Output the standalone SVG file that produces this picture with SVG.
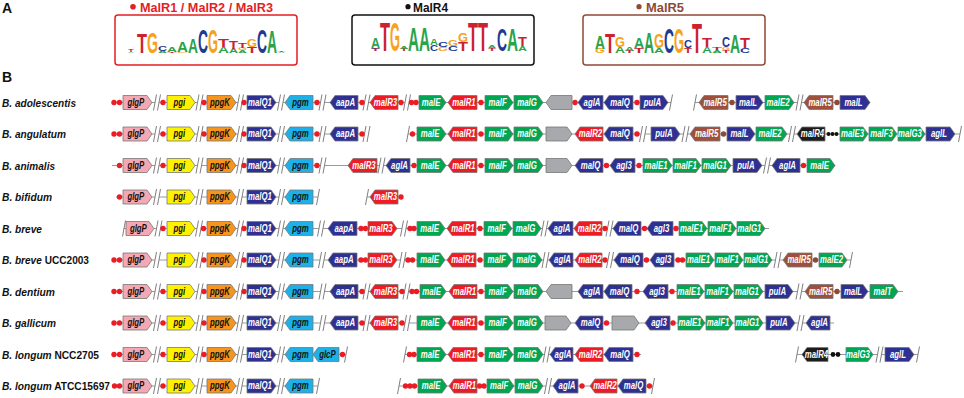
<svg xmlns="http://www.w3.org/2000/svg" width="964" height="398" viewBox="0 0 964 398">
<style>
text{font-family:"Liberation Sans",Arial,Helvetica,sans-serif}
.g{stroke:#777;stroke-width:0.8}
.pk{fill:#f5a8b2}.yl{fill:#fff200}.or{fill:#f7941d}.db{fill:#2e3192}.lb{fill:#1eb1e9}.gr{fill:#00a651}.rd{fill:#ed1c24}.gy{fill:#a7a9ac}.br{fill:#9e503c}.bk{fill:#1c1c1c}
.t{font-size:10px;font-weight:bold;font-style:italic;text-anchor:middle;transform:scaleX(0.78);transform-box:fill-box;transform-origin:center}
.w{fill:#fff}.k{fill:#111}
.d{fill:#ec1c24}.dbr{fill:#8e4a36}.dk{fill:#111}
.bb{stroke:#808080;stroke-width:0.8;fill:none}
.sl{stroke:#808080;stroke-width:1;fill:none}
.lab{font-size:11.5px;font-weight:bold;fill:#111}
.pl{font-size:14px;font-weight:bold;fill:#111}
.ttl{font-size:12.5px;font-weight:bold}
.lg{font-size:10px;font-weight:bold}
.lA{fill:#2aa34a}.lC{fill:#1f3a93}.lG{fill:#f6a31b}.lT{fill:#cc2131}
</style>
<defs>
<path id="b2" class="sl" d="M-3.5,8L-0.5,-8M0.5,8L3.5,-8"/>
<path id="b1" class="sl" d="M-1.5,8L1.5,-8"/>
</defs>

<text class="pl" x="2" y="13">A</text>
<text class="pl" x="2" y="82">B</text>

<g id="logo-malR123">
<circle cx="133" cy="6.7" r="2.8" fill="#e31e24"/>
<text class="ttl" x="140" y="11.8" fill="#e31e24" textLength="133" lengthAdjust="spacingAndGlyphs">MalR1 / MalR2 / MalR3</text>
<rect x="115" y="15" width="182" height="50" rx="3" fill="#fff" stroke="#e31e24" stroke-width="1.5"/>
<text class="lg lA" x="128" textLength="6" lengthAdjust="spacingAndGlyphs" transform="translate(0,53) scale(1,0.21)">A</text>
<text class="lg lT" x="128" textLength="6" lengthAdjust="spacingAndGlyphs" transform="translate(0,51.5) scale(1,0.28)">T</text>
<text class="lg lT" x="137" textLength="10" lengthAdjust="spacingAndGlyphs" transform="translate(0,53) scale(1,2.78)">T</text>
<text class="lg lG" x="147" textLength="11" lengthAdjust="spacingAndGlyphs" transform="translate(0,53) scale(1,2.92)">G</text>
<text class="lg lA" x="158" textLength="9" lengthAdjust="spacingAndGlyphs" transform="translate(0,53) scale(1,0.35)">A</text>
<text class="lg lC" x="158" textLength="9" lengthAdjust="spacingAndGlyphs" transform="translate(0,50.5) scale(1,0.63)">C</text>
<text class="lg lT" x="167" textLength="10" lengthAdjust="spacingAndGlyphs" transform="translate(0,53) scale(1,0.14)">T</text>
<text class="lg lA" x="167" textLength="10" lengthAdjust="spacingAndGlyphs" transform="translate(0,52) scale(1,0.63)">A</text>
<text class="lg lG" x="177" textLength="11" lengthAdjust="spacingAndGlyphs" transform="translate(0,53) scale(1,0.14)">G</text>
<text class="lg lA" x="177" textLength="11" lengthAdjust="spacingAndGlyphs" transform="translate(0,52) scale(1,1.53)">A</text>
<text class="lg lA" x="188" textLength="10" lengthAdjust="spacingAndGlyphs" transform="translate(0,53) scale(1,2.08)">A</text>
<text class="lg lC" x="198" textLength="10" lengthAdjust="spacingAndGlyphs" transform="translate(0,53) scale(1,3.33)">C</text>
<text class="lg lG" x="208" textLength="10" lengthAdjust="spacingAndGlyphs" transform="translate(0,53) scale(1,3.33)">G</text>
<text class="lg lA" x="218" textLength="11" lengthAdjust="spacingAndGlyphs" transform="translate(0,53) scale(1,0.83)">A</text>
<text class="lg lT" x="218" textLength="11" lengthAdjust="spacingAndGlyphs" transform="translate(0,47) scale(1,1.11)">T</text>
<text class="lg lA" x="229" textLength="9" lengthAdjust="spacingAndGlyphs" transform="translate(0,53) scale(1,0.63)">A</text>
<text class="lg lT" x="229" textLength="9" lengthAdjust="spacingAndGlyphs" transform="translate(0,48.5) scale(1,1.11)">T</text>
<text class="lg lA" x="238" textLength="9" lengthAdjust="spacingAndGlyphs" transform="translate(0,53) scale(1,0.42)">A</text>
<text class="lg lG" x="238" textLength="9" lengthAdjust="spacingAndGlyphs" transform="translate(0,50) scale(1,0.28)">G</text>
<text class="lg lT" x="238" textLength="9" lengthAdjust="spacingAndGlyphs" transform="translate(0,48) scale(1,0.69)">T</text>
<text class="lg lT" x="247" textLength="10" lengthAdjust="spacingAndGlyphs" transform="translate(0,53) scale(1,0.83)">T</text>
<text class="lg lG" x="247" textLength="10" lengthAdjust="spacingAndGlyphs" transform="translate(0,47) scale(1,1.11)">G</text>
<text class="lg lC" x="257" textLength="10" lengthAdjust="spacingAndGlyphs" transform="translate(0,53) scale(1,3.33)">C</text>
<text class="lg lA" x="267" textLength="10" lengthAdjust="spacingAndGlyphs" transform="translate(0,53) scale(1,3.19)">A</text>
<text class="lg lA" x="278" textLength="7" lengthAdjust="spacingAndGlyphs" transform="translate(0,53) scale(1,0.21)">A</text>
<text class="lg lT" x="278" textLength="7" lengthAdjust="spacingAndGlyphs" transform="translate(0,51.5) scale(1,0.21)">T</text>
</g>

<g id="logo-malR4">
<circle cx="408" cy="6.7" r="2.6" fill="#111"/>
<text class="ttl" x="413" y="11.8" fill="#111" textLength="35" lengthAdjust="spacingAndGlyphs">MalR4</text>
<rect x="352" y="15" width="182" height="50" rx="3" fill="#fff" stroke="#111" stroke-width="1.5"/>
<text class="lg lT" x="371" textLength="9" lengthAdjust="spacingAndGlyphs" transform="translate(0,51) scale(1,0.28)">T</text>
<text class="lg lC" x="371" textLength="9" lengthAdjust="spacingAndGlyphs" transform="translate(0,49) scale(1,0.21)">C</text>
<text class="lg lA" x="371" textLength="9" lengthAdjust="spacingAndGlyphs" transform="translate(0,47.5) scale(1,1.39)">A</text>
<text class="lg lT" x="380" textLength="10" lengthAdjust="spacingAndGlyphs" transform="translate(0,51) scale(1,4.03)">T</text>
<text class="lg lG" x="390" textLength="10" lengthAdjust="spacingAndGlyphs" transform="translate(0,51) scale(1,4.03)">G</text>
<text class="lg lT" x="400" textLength="8" lengthAdjust="spacingAndGlyphs" transform="translate(0,51) scale(1,0.28)">T</text>
<text class="lg lA" x="400" textLength="8" lengthAdjust="spacingAndGlyphs" transform="translate(0,49) scale(1,0.42)">A</text>
<text class="lg lA" x="408" textLength="11" lengthAdjust="spacingAndGlyphs" transform="translate(0,51) scale(1,3.33)">A</text>
<text class="lg lA" x="419" textLength="11" lengthAdjust="spacingAndGlyphs" transform="translate(0,51) scale(1,3.33)">A</text>
<text class="lg lC" x="430" textLength="8" lengthAdjust="spacingAndGlyphs" transform="translate(0,51) scale(1,0.83)">C</text>
<text class="lg lA" x="430" textLength="8" lengthAdjust="spacingAndGlyphs" transform="translate(0,45) scale(1,0.83)">A</text>
<text class="lg lG" x="438" textLength="10" lengthAdjust="spacingAndGlyphs" transform="translate(0,51) scale(1,0.56)">G</text>
<text class="lg lC" x="438" textLength="10" lengthAdjust="spacingAndGlyphs" transform="translate(0,47) scale(1,0.69)">C</text>
<text class="lg lC" x="448" textLength="10" lengthAdjust="spacingAndGlyphs" transform="translate(0,51) scale(1,0.69)">C</text>
<text class="lg lG" x="448" textLength="10" lengthAdjust="spacingAndGlyphs" transform="translate(0,46) scale(1,0.83)">G</text>
<text class="lg lT" x="458" textLength="10" lengthAdjust="spacingAndGlyphs" transform="translate(0,51) scale(1,1.25)">T</text>
<text class="lg lG" x="458" textLength="10" lengthAdjust="spacingAndGlyphs" transform="translate(0,42) scale(1,1.25)">G</text>
<text class="lg lT" x="468" textLength="10" lengthAdjust="spacingAndGlyphs" transform="translate(0,51) scale(1,4.03)">T</text>
<text class="lg lT" x="478" textLength="10" lengthAdjust="spacingAndGlyphs" transform="translate(0,51) scale(1,4.03)">T</text>
<text class="lg lT" x="488" textLength="8" lengthAdjust="spacingAndGlyphs" transform="translate(0,51) scale(1,0.42)">T</text>
<text class="lg lA" x="488" textLength="8" lengthAdjust="spacingAndGlyphs" transform="translate(0,48) scale(1,0.42)">A</text>
<text class="lg lC" x="497" textLength="10" lengthAdjust="spacingAndGlyphs" transform="translate(0,51) scale(1,3.19)">C</text>
<text class="lg lA" x="507" textLength="11" lengthAdjust="spacingAndGlyphs" transform="translate(0,51) scale(1,3.19)">A</text>
<text class="lg lA" x="518" textLength="9" lengthAdjust="spacingAndGlyphs" transform="translate(0,51) scale(1,0.69)">A</text>
<text class="lg lT" x="518" textLength="9" lengthAdjust="spacingAndGlyphs" transform="translate(0,46) scale(1,1.25)">T</text>
</g>

<g id="logo-malR5">
<circle cx="639" cy="6.7" r="2.6" fill="#8e4a36"/>
<text class="ttl" x="646" y="11.8" fill="#8e4a36" textLength="38" lengthAdjust="spacingAndGlyphs">MalR5</text>
<rect x="583" y="15" width="182" height="50" rx="3" fill="#fff" stroke="#8e4a36" stroke-width="1.5"/>
<text class="lg lG" x="595" textLength="10" lengthAdjust="spacingAndGlyphs" transform="translate(0,53) scale(1,0.63)">G</text>
<text class="lg lA" x="595" textLength="10" lengthAdjust="spacingAndGlyphs" transform="translate(0,48.5) scale(1,1.88)">A</text>
<text class="lg lT" x="605" textLength="10" lengthAdjust="spacingAndGlyphs" transform="translate(0,53) scale(1,2.78)">T</text>
<text class="lg lA" x="615" textLength="10" lengthAdjust="spacingAndGlyphs" transform="translate(0,53) scale(1,0.83)">A</text>
<text class="lg lG" x="615" textLength="10" lengthAdjust="spacingAndGlyphs" transform="translate(0,47) scale(1,1.39)">G</text>
<text class="lg lT" x="625" textLength="9" lengthAdjust="spacingAndGlyphs" transform="translate(0,53) scale(1,0.28)">T</text>
<text class="lg lA" x="625" textLength="9" lengthAdjust="spacingAndGlyphs" transform="translate(0,51) scale(1,0.49)">A</text>
<text class="lg lT" x="634" textLength="10" lengthAdjust="spacingAndGlyphs" transform="translate(0,53) scale(1,0.69)">T</text>
<text class="lg lA" x="634" textLength="10" lengthAdjust="spacingAndGlyphs" transform="translate(0,48) scale(1,1.53)">A</text>
<text class="lg lA" x="644" textLength="10" lengthAdjust="spacingAndGlyphs" transform="translate(0,53) scale(1,2.92)">A</text>
<text class="lg lA" x="654" textLength="10" lengthAdjust="spacingAndGlyphs" transform="translate(0,53) scale(1,0.69)">A</text>
<text class="lg lG" x="654" textLength="10" lengthAdjust="spacingAndGlyphs" transform="translate(0,48) scale(1,1.94)">G</text>
<text class="lg lC" x="664" textLength="10" lengthAdjust="spacingAndGlyphs" transform="translate(0,53) scale(1,3.47)">C</text>
<text class="lg lG" x="674" textLength="10" lengthAdjust="spacingAndGlyphs" transform="translate(0,53) scale(1,3.47)">G</text>
<text class="lg lT" x="684" textLength="8" lengthAdjust="spacingAndGlyphs" transform="translate(0,53) scale(1,0.69)">T</text>
<text class="lg lC" x="684" textLength="8" lengthAdjust="spacingAndGlyphs" transform="translate(0,48) scale(1,1.11)">C</text>
<text class="lg lT" x="692" textLength="10" lengthAdjust="spacingAndGlyphs" transform="translate(0,53) scale(1,4.31)">T</text>
<text class="lg lA" x="702" textLength="10" lengthAdjust="spacingAndGlyphs" transform="translate(0,53) scale(1,0.83)">A</text>
<text class="lg lT" x="702" textLength="10" lengthAdjust="spacingAndGlyphs" transform="translate(0,47) scale(1,1.25)">T</text>
<text class="lg lA" x="712" textLength="10" lengthAdjust="spacingAndGlyphs" transform="translate(0,53) scale(1,0.42)">A</text>
<text class="lg lT" x="712" textLength="10" lengthAdjust="spacingAndGlyphs" transform="translate(0,50) scale(1,0.42)">T</text>
<text class="lg lT" x="722" textLength="8" lengthAdjust="spacingAndGlyphs" transform="translate(0,53) scale(1,0.42)">T</text>
<text class="lg lG" x="722" textLength="8" lengthAdjust="spacingAndGlyphs" transform="translate(0,50) scale(1,0.42)">G</text>
<text class="lg lC" x="722" textLength="8" lengthAdjust="spacingAndGlyphs" transform="translate(0,47) scale(1,1.39)">C</text>
<text class="lg lA" x="730" textLength="10" lengthAdjust="spacingAndGlyphs" transform="translate(0,53) scale(1,2.5)">A</text>
<text class="lg lC" x="740" textLength="10" lengthAdjust="spacingAndGlyphs" transform="translate(0,53) scale(1,0.69)">C</text>
<text class="lg lT" x="740" textLength="10" lengthAdjust="spacingAndGlyphs" transform="translate(0,48) scale(1,1.53)">T</text>
</g>

<g id="row-labels">
<text class="lab" x="2" y="106.5" textLength="74" lengthAdjust="spacingAndGlyphs" font-style="italic">B. adolescentis</text>
<text class="lab" x="2" y="138" textLength="64" lengthAdjust="spacingAndGlyphs" font-style="italic">B. angulatum</text>
<text class="lab" x="2" y="169.5" textLength="53" lengthAdjust="spacingAndGlyphs" font-style="italic">B. animalis</text>
<text class="lab" x="2" y="201" textLength="50" lengthAdjust="spacingAndGlyphs" font-style="italic">B. bifidum</text>
<text class="lab" x="2" y="232.5" textLength="40" lengthAdjust="spacingAndGlyphs" font-style="italic">B. breve</text>
<text class="lab" x="2" y="264" textLength="87" lengthAdjust="spacingAndGlyphs"><tspan font-style="italic">B. breve</tspan> UCC2003</text>
<text class="lab" x="2" y="295.5" textLength="53" lengthAdjust="spacingAndGlyphs" font-style="italic">B. dentium</text>
<text class="lab" x="2" y="327" textLength="54" lengthAdjust="spacingAndGlyphs" font-style="italic">B. gallicum</text>
<text class="lab" x="2" y="358.5" textLength="97" lengthAdjust="spacingAndGlyphs"><tspan font-style="italic">B. longum</tspan> NCC2705</text>
<text class="lab" x="2" y="390" textLength="108" lengthAdjust="spacingAndGlyphs"><tspan font-style="italic">B. longum</tspan> ATCC15697</text>
</g>

<g id="connectors">
<path class="bb" d="M114,102.5H155M159,102.5H197.5M201.5,102.5H238M242,102.5H279M283,102.5H320.5M324.5,102.5H364.5M368.5,102.5H405M409,102.5H671M695,102.5H797.5M801.5,102.5H870"/>
<path class="bb" d="M114,134H155M159,134H197.5M201.5,134H238M242,134H279M283,134H320.5M324.5,134H364.5M408,134H641M645,134H683.5M687.5,134H790M794,134H960"/>
<path class="bb" d="M112,165.5H155M159,165.5H197.5M201.5,165.5H238M242,165.5H279M283,165.5H320.5M324.5,165.5H379.5M383.5,165.5H765M769,165.5H835"/>
<path class="bb" d="M116,197H155M159,197H197.5M201.5,197H238M242,197H279M283,197H318M367,197H401"/>
<path class="bb" d="M124,228.5H156.5M160.5,228.5H197M201,228.5H238M242,228.5H279M283,228.5H319M323,228.5H402M406,228.5H542.5M546.5,228.5H607.5M611.5,228.5H769"/>
<path class="bb" d="M114,260H155M159,260H197.5M201.5,260H238M242,260H279M283,260H320M324,260H400.5M404.5,260H543.5M547.5,260H608M612,260H775.5M779.5,260H851"/>
<path class="bb" d="M114,291.5H155M159,291.5H197.5M201.5,291.5H238M242,291.5H279M283,291.5H320.5M324.5,291.5H364.5M368.5,291.5H404.5M408.5,291.5H797.5M801.5,291.5H903"/>
<path class="bb" d="M114,323H155M159,323H197.5M201.5,323H238M242,323H279M283,323H320.5M324.5,323H364.5M368.5,323H405M409,323H798.5M802.5,323H834"/>
<path class="bb" d="M114,354.5H155M159,354.5H197.5M201.5,354.5H238M242,354.5H279M283,354.5H346M405,354.5H544.5M548.5,354.5H641M797,354.5H877.5M881.5,354.5H918"/>
<path class="bb" d="M114,386H155M159,386H197.5M201.5,386H238M242,386H279M283,386H318M399,386H546M550,386H653"/>
<use href="#b2" x="157" y="102.5"/><use href="#b2" x="199.5" y="102.5"/><use href="#b2" x="240" y="102.5"/><use href="#b2" x="281" y="102.5"/><use href="#b2" x="322.5" y="102.5"/><use href="#b2" x="366.5" y="102.5"/><use href="#b2" x="407" y="102.5"/><use href="#b2" x="799.5" y="102.5"/><use href="#b1" x="671" y="102.5"/><use href="#b1" x="695" y="102.5"/>
<use href="#b2" x="157" y="134"/><use href="#b2" x="199.5" y="134"/><use href="#b2" x="240" y="134"/><use href="#b2" x="281" y="134"/><use href="#b2" x="322.5" y="134"/><use href="#b2" x="366.5" y="134"/><use href="#b2" x="643" y="134"/><use href="#b2" x="685.5" y="134"/><use href="#b2" x="792" y="134"/><use href="#b1" x="408" y="134"/><use href="#b1" x="960" y="134"/>
<use href="#b2" x="157" y="165.5"/><use href="#b2" x="199.5" y="165.5"/><use href="#b2" x="240" y="165.5"/><use href="#b2" x="281" y="165.5"/><use href="#b2" x="322.5" y="165.5"/><use href="#b2" x="381.5" y="165.5"/><use href="#b2" x="767" y="165.5"/>
<use href="#b2" x="157" y="197"/><use href="#b2" x="199.5" y="197"/><use href="#b2" x="240" y="197"/><use href="#b2" x="281" y="197"/><use href="#b1" x="318" y="197"/><use href="#b1" x="367" y="197"/>
<use href="#b1" x="124" y="228.5"/><use href="#b2" x="158.5" y="228.5"/><use href="#b2" x="199" y="228.5"/><use href="#b2" x="240" y="228.5"/><use href="#b2" x="281" y="228.5"/><use href="#b2" x="321" y="228.5"/><use href="#b2" x="404" y="228.5"/><use href="#b2" x="544.5" y="228.5"/><use href="#b2" x="609.5" y="228.5"/>
<use href="#b2" x="157" y="260"/><use href="#b2" x="199.5" y="260"/><use href="#b2" x="240" y="260"/><use href="#b2" x="281" y="260"/><use href="#b2" x="322" y="260"/><use href="#b2" x="402.5" y="260"/><use href="#b2" x="545.5" y="260"/><use href="#b2" x="610" y="260"/><use href="#b2" x="777.5" y="260"/><use href="#b1" x="851" y="260"/>
<use href="#b2" x="157" y="291.5"/><use href="#b2" x="199.5" y="291.5"/><use href="#b2" x="240" y="291.5"/><use href="#b2" x="281" y="291.5"/><use href="#b2" x="322.5" y="291.5"/><use href="#b2" x="366.5" y="291.5"/><use href="#b2" x="406.5" y="291.5"/><use href="#b2" x="799.5" y="291.5"/>
<use href="#b2" x="157" y="323"/><use href="#b2" x="199.5" y="323"/><use href="#b2" x="240" y="323"/><use href="#b2" x="281" y="323"/><use href="#b2" x="322.5" y="323"/><use href="#b2" x="366.5" y="323"/><use href="#b2" x="407" y="323"/><use href="#b2" x="800.5" y="323"/>
<use href="#b2" x="157" y="354.5"/><use href="#b2" x="199.5" y="354.5"/><use href="#b2" x="240" y="354.5"/><use href="#b2" x="281" y="354.5"/><use href="#b2" x="546.5" y="354.5"/><use href="#b2" x="879.5" y="354.5"/><use href="#b1" x="346" y="354.5"/><use href="#b1" x="405" y="354.5"/><use href="#b1" x="797" y="354.5"/><use href="#b1" x="918" y="354.5"/>
<use href="#b2" x="157" y="386"/><use href="#b2" x="199.5" y="386"/><use href="#b2" x="240" y="386"/><use href="#b2" x="281" y="386"/><use href="#b2" x="548" y="386"/><use href="#b1" x="318" y="386"/><use href="#b1" x="399" y="386"/><use href="#b1" x="653" y="386"/>
</g>

<g id="sites">
<g class="d">
<circle cx="114" cy="102.5" r="2.7"/><circle cx="119.5" cy="102.5" r="2.7"/><circle cx="163" cy="102.5" r="2.7"/><circle cx="204" cy="102.5" r="2.7"/><circle cx="244" cy="102.5" r="2.7"/><circle cx="317" cy="102.5" r="2.7"/><circle cx="362" cy="102.5" r="2.7"/><circle cx="401" cy="102.5" r="2.7"/><circle cx="411.5" cy="102.5" r="2.7"/><circle cx="416" cy="102.5" r="2.7"/><circle cx="481" cy="102.5" r="2.7"/><circle cx="575" cy="102.5" r="2.7"/><circle cx="637" cy="102.5" r="2.7"/>
<circle cx="114" cy="134" r="2.7"/><circle cx="119.5" cy="134" r="2.7"/><circle cx="163" cy="134" r="2.7"/><circle cx="204" cy="134" r="2.7"/><circle cx="244" cy="134" r="2.7"/><circle cx="317" cy="134" r="2.7"/><circle cx="362" cy="134" r="2.7"/><circle cx="412.5" cy="134" r="2.7"/><circle cx="481" cy="134" r="2.7"/><circle cx="637" cy="134" r="2.7"/>
<circle cx="119.5" cy="165.5" r="2.7"/><circle cx="163" cy="165.5" r="2.7"/><circle cx="244" cy="165.5" r="2.7"/><circle cx="317" cy="165.5" r="2.7"/><circle cx="414" cy="165.5" r="2.7"/><circle cx="481" cy="165.5" r="2.7"/><circle cx="606.5" cy="165.5" r="2.7"/><circle cx="639" cy="165.5" r="2.7"/><circle cx="803.5" cy="165.5" r="2.7"/>
<circle cx="119.5" cy="197" r="2.7"/><circle cx="401" cy="197" r="2.7"/>
<circle cx="163" cy="228.5" r="2.7"/><circle cx="203.5" cy="228.5" r="2.7"/><circle cx="244" cy="228.5" r="2.7"/><circle cx="361" cy="228.5" r="2.7"/><circle cx="365.5" cy="228.5" r="2.7"/><circle cx="410" cy="228.5" r="2.7"/><circle cx="414" cy="228.5" r="2.7"/><circle cx="480" cy="228.5" r="2.7"/><circle cx="605" cy="228.5" r="2.7"/><circle cx="644.5" cy="228.5" r="2.7"/><circle cx="676" cy="228.5" r="2.7"/>
<circle cx="114" cy="260" r="2.7"/><circle cx="119.5" cy="260" r="2.7"/><circle cx="204" cy="260" r="2.7"/><circle cx="244" cy="260" r="2.7"/><circle cx="361" cy="260" r="2.7"/><circle cx="365.5" cy="260" r="2.7"/><circle cx="408" cy="260" r="2.7"/><circle cx="412.5" cy="260" r="2.7"/><circle cx="480" cy="260" r="2.7"/><circle cx="605" cy="260" r="2.7"/><circle cx="646.5" cy="260" r="2.7"/><circle cx="678" cy="260" r="2.7"/><circle cx="682.5" cy="260" r="2.7"/>
<circle cx="114" cy="291.5" r="2.7"/><circle cx="119.5" cy="291.5" r="2.7"/><circle cx="163" cy="291.5" r="2.7"/><circle cx="204" cy="291.5" r="2.7"/><circle cx="244" cy="291.5" r="2.7"/><circle cx="362" cy="291.5" r="2.7"/><circle cx="402" cy="291.5" r="2.7"/><circle cx="412" cy="291.5" r="2.7"/><circle cx="416.5" cy="291.5" r="2.7"/><circle cx="481" cy="291.5" r="2.7"/><circle cx="637" cy="291.5" r="2.7"/><circle cx="672" cy="291.5" r="2.7"/>
<circle cx="114" cy="323" r="2.7"/><circle cx="119.5" cy="323" r="2.7"/><circle cx="163" cy="323" r="2.7"/><circle cx="204" cy="323" r="2.7"/><circle cx="362" cy="323" r="2.7"/><circle cx="402" cy="323" r="2.7"/><circle cx="481" cy="323" r="2.7"/><circle cx="606.5" cy="323" r="2.7"/><circle cx="673" cy="323" r="2.7"/>
<circle cx="114" cy="354.5" r="2.7"/><circle cx="119.5" cy="354.5" r="2.7"/><circle cx="163" cy="354.5" r="2.7"/><circle cx="204" cy="354.5" r="2.7"/><circle cx="342.5" cy="354.5" r="2.7"/><circle cx="409.5" cy="354.5" r="2.7"/><circle cx="414" cy="354.5" r="2.7"/><circle cx="481" cy="354.5" r="2.7"/><circle cx="637" cy="354.5" r="2.7"/>
<circle cx="114.5" cy="386" r="2.7"/><circle cx="119.5" cy="386" r="2.7"/><circle cx="163" cy="386" r="2.7"/><circle cx="405.5" cy="386" r="2.7"/><circle cx="410" cy="386" r="2.7"/><circle cx="414.5" cy="386" r="2.7"/><circle cx="479.5" cy="386" r="2.7"/><circle cx="484" cy="386" r="2.7"/><circle cx="582" cy="386" r="2.7"/><circle cx="649.5" cy="386" r="2.7"/>
</g>
<g class="dbr">
<circle cx="732" cy="102.5" r="2.7"/><circle cx="837" cy="102.5" r="2.7"/><circle cx="723.5" cy="134" r="2.7"/><circle cx="815.5" cy="260" r="2.7"/><circle cx="837" cy="291.5" r="2.7"/>
</g>
<g class="dk">
<circle cx="828.5" cy="134" r="2"/><circle cx="832.5" cy="134" r="2"/><circle cx="836.5" cy="134" r="2"/>
<circle cx="833" cy="354.5" r="2.4"/><circle cx="838" cy="354.5" r="2.4"/>
</g>
</g>

<g id="row1-adolescentis">
<g id="r1-01-glgP"><path class="g pk" d="M123,95.5h24l5,7-5,7h-24z"/><text class="t k" x="136" y="106">glgP</text></g>
<g id="r1-02-pgi"><path class="g yl" d="M167,95.5h23l5,7-5,7h-23z"/><text class="t k" x="179.5" y="106">pgi</text></g>
<g id="r1-03-ppgK"><path class="g or" d="M207,95.5h24l5,7-5,7h-24z"/><text class="t k" x="220" y="106">ppgK</text></g>
<g id="r1-04-malQ1"><path class="g db" d="M247,95.5h24l5,7-5,7h-24z"/><text class="t w" x="260" y="106">malQ1</text></g>
<g id="r1-05-pgm"><path class="g lb" d="M285,102.5l5,-7h23v14h-23z"/><text class="t k" x="300.5" y="106">pgm</text></g>
<g id="r1-06-aapA"><path class="g db" d="M330,102.5l5,-7h23v14h-23z"/><text class="t w" x="345.5" y="106">aapA</text></g>
<g id="r1-07-malR3"><path class="g rd" d="M370,102.5l5,-7h23v14h-23z"/><text class="t w" x="385.5" y="106">malR3</text></g>
<g id="r1-08-malE"><path class="g gr" d="M419,95.5h22l5,7-5,7h-22z"/><text class="t w" x="431" y="106">malE</text></g>
<g id="r1-09-malR1"><path class="g rd" d="M448,102.5l5,-7h24v14h-24z"/><text class="t w" x="464" y="106">malR1</text></g>
<g id="r1-10-malF"><path class="g gr" d="M485,95.5h23l5,7-5,7h-23z"/><text class="t w" x="497.5" y="106">malF</text></g>
<g id="r1-11-malG"><path class="g gr" d="M514,95.5h24l5,7-5,7h-24z"/><text class="t w" x="527" y="106">malG</text></g>
<g id="r1-12-grey"><path class="g gy" d="M546,102.5l5,-7h21v14h-21z"/></g>
<g id="r1-13-aglA"><path class="g db" d="M578,102.5l5,-7h20v14h-20z"/><text class="t w" x="592" y="106">aglA</text></g>
<g id="r1-14-malQ"><path class="g db" d="M604,102.5l5,-7h24v14h-24z"/><text class="t w" x="620" y="106">malQ</text></g>
<g id="r1-15-pulA"><path class="g db" d="M640,95.5h23l5,7-5,7h-23z"/><text class="t w" x="652.5" y="106">pulA</text></g>
<g id="r1-16-malR5"><path class="g br" d="M699,102.5l5,-7h24v14h-24z"/><text class="t w" x="715" y="106">malR5</text></g>
<g id="r1-17-malL"><path class="g db" d="M736,95.5h22l5,7-5,7h-22z"/><text class="t w" x="748" y="106">malL</text></g>
<g id="r1-18-malE2"><path class="g gr" d="M765,95.5h24l5,7-5,7h-24z"/><text class="t w" x="778" y="106">malE2</text></g>
<g id="r1-19-malR5"><path class="g br" d="M804,102.5l5,-7h24v14h-24z"/><text class="t w" x="820" y="106">malR5</text></g>
<g id="r1-20-malL"><path class="g db" d="M840,95.5h25l5,7-5,7h-25z"/><text class="t w" x="853.5" y="106">malL</text></g>
</g>

<g id="row2-angulatum">
<g id="r2-01-glgP"><path class="g pk" d="M123,127h24l5,7-5,7h-24z"/><text class="t k" x="136" y="137.5">glgP</text></g>
<g id="r2-02-pgi"><path class="g yl" d="M167,127h23l5,7-5,7h-23z"/><text class="t k" x="179.5" y="137.5">pgi</text></g>
<g id="r2-03-ppgK"><path class="g or" d="M207,127h24l5,7-5,7h-24z"/><text class="t k" x="220" y="137.5">ppgK</text></g>
<g id="r2-04-malQ1"><path class="g db" d="M247,127h24l5,7-5,7h-24z"/><text class="t w" x="260" y="137.5">malQ1</text></g>
<g id="r2-05-pgm"><path class="g lb" d="M285,134l5,-7h23v14h-23z"/><text class="t k" x="300.5" y="137.5">pgm</text></g>
<g id="r2-06-aapA"><path class="g db" d="M330,134l5,-7h23v14h-23z"/><text class="t w" x="345.5" y="137.5">aapA</text></g>
<g id="r2-07-malE"><path class="g gr" d="M417,127h24l5,7-5,7h-24z"/><text class="t w" x="430" y="137.5">malE</text></g>
<g id="r2-08-malR1"><path class="g rd" d="M448,134l5,-7h24v14h-24z"/><text class="t w" x="464" y="137.5">malR1</text></g>
<g id="r2-09-malF"><path class="g gr" d="M485,127h23l5,7-5,7h-23z"/><text class="t w" x="497.5" y="137.5">malF</text></g>
<g id="r2-10-malG"><path class="g gr" d="M514,127h24l5,7-5,7h-24z"/><text class="t w" x="527" y="137.5">malG</text></g>
<g id="r2-11-grey"><path class="g gy" d="M546,127h21l5,7-5,7h-21z"/></g>
<g id="r2-12-malR2"><path class="g rd" d="M575,134l5,-7h23v14h-23z"/><text class="t w" x="590.5" y="137.5">malR2</text></g>
<g id="r2-13-malQ"><path class="g db" d="M604,134l5,-7h24v14h-24z"/><text class="t w" x="620" y="137.5">malQ</text></g>
<g id="r2-14-pulA"><path class="g db" d="M651,127h24l5,7-5,7h-24z"/><text class="t w" x="664" y="137.5">pulA</text></g>
<g id="r2-15-malR5"><path class="g br" d="M690,134l5,-7h25v14h-25z"/><text class="t w" x="706.5" y="137.5">malR5</text></g>
<g id="r2-16-malL"><path class="g db" d="M727,127h23l5,7-5,7h-23z"/><text class="t w" x="739.5" y="137.5">malL</text></g>
<g id="r2-17-malE2"><path class="g gr" d="M756,127h26l5,7-5,7h-26z"/><text class="t w" x="770" y="137.5">malE2</text></g>
<g id="r2-18-malR4"><path class="g bk" d="M797,134l5,-7h23v14h-23z"/><text class="t w" x="812.5" y="137.5">malR4</text></g>
<g id="r2-19-malE3"><path class="g gr" d="M840,127h23l5,7-5,7h-23z"/><text class="t w" x="852.5" y="137.5">malE3</text></g>
<g id="r2-20-malF3"><path class="g gr" d="M869,127h23l5,7-5,7h-23z"/><text class="t w" x="881.5" y="137.5">malF3</text></g>
<g id="r2-21-malG3"><path class="g gr" d="M898,127h22l5,7-5,7h-22z"/><text class="t w" x="910" y="137.5">malG3</text></g>
<g id="r2-22-aglL"><path class="g db" d="M926,127h24l5,7-5,7h-24z"/><text class="t w" x="939" y="137.5">aglL</text></g>
</g>

<g id="row3-animalis">
<g id="r3-01-glgP"><path class="g pk" d="M123,158.5h24l5,7-5,7h-24z"/><text class="t k" x="136" y="169">glgP</text></g>
<g id="r3-02-pgi"><path class="g yl" d="M167,158.5h23l5,7-5,7h-23z"/><text class="t k" x="179.5" y="169">pgi</text></g>
<g id="r3-03-ppgK"><path class="g or" d="M207,158.5h24l5,7-5,7h-24z"/><text class="t k" x="220" y="169">ppgK</text></g>
<g id="r3-04-malQ1"><path class="g db" d="M247,158.5h24l5,7-5,7h-24z"/><text class="t w" x="260" y="169">malQ1</text></g>
<g id="r3-05-pgm"><path class="g lb" d="M285,165.5l5,-7h23v14h-23z"/><text class="t k" x="300.5" y="169">pgm</text></g>
<g id="r3-06-malR3"><path class="g rd" d="M348,165.5l5,-7h24v14h-24z"/><text class="t w" x="364" y="169">malR3</text></g>
<g id="r3-07-aglA"><path class="g db" d="M386,165.5l5,-7h19v14h-19z"/><text class="t w" x="399.5" y="169">aglA</text></g>
<g id="r3-08-malE"><path class="g gr" d="M417,158.5h24l5,7-5,7h-24z"/><text class="t w" x="430" y="169">malE</text></g>
<g id="r3-09-malR1"><path class="g rd" d="M448,165.5l5,-7h24v14h-24z"/><text class="t w" x="464" y="169">malR1</text></g>
<g id="r3-10-malF"><path class="g gr" d="M485,158.5h23l5,7-5,7h-23z"/><text class="t w" x="497.5" y="169">malF</text></g>
<g id="r3-11-malG"><path class="g gr" d="M514,158.5h24l5,7-5,7h-24z"/><text class="t w" x="527" y="169">malG</text></g>
<g id="r3-12-grey"><path class="g gy" d="M546,158.5h21l5,7-5,7h-21z"/></g>
<g id="r3-13-malQ"><path class="g db" d="M575,165.5l5,-7h23v14h-23z"/><text class="t w" x="590.5" y="169">malQ</text></g>
<g id="r3-14-agl3"><path class="g db" d="M610,165.5l5,-7h20v14h-20z"/><text class="t w" x="624" y="169">agl3</text></g>
<g id="r3-15-malE1"><path class="g gr" d="M643,158.5h24l5,7-5,7h-24z"/><text class="t w" x="656" y="169">malE1</text></g>
<g id="r3-16-malF1"><path class="g gr" d="M673,158.5h23l5,7-5,7h-23z"/><text class="t w" x="685.5" y="169">malF1</text></g>
<g id="r3-17-malG1"><path class="g gr" d="M702,158.5h24l5,7-5,7h-24z"/><text class="t w" x="715" y="169">malG1</text></g>
<g id="r3-18-pulA"><path class="g db" d="M733,158.5h24l5,7-5,7h-24z"/><text class="t w" x="746" y="169">pulA</text></g>
<g id="r3-19-aglA"><path class="g db" d="M772,165.5l5,-7h23v14h-23z"/><text class="t w" x="787.5" y="169">aglA</text></g>
<g id="r3-20-malE"><path class="g gr" d="M807,158.5h23l5,7-5,7h-23z"/><text class="t w" x="819.5" y="169">malE</text></g>
</g>

<g id="row4-bifidum">
<g id="r4-01-glgP"><path class="g pk" d="M123,190h24l5,7-5,7h-24z"/><text class="t k" x="136" y="200.5">glgP</text></g>
<g id="r4-02-pgi"><path class="g yl" d="M167,190h23l5,7-5,7h-23z"/><text class="t k" x="179.5" y="200.5">pgi</text></g>
<g id="r4-03-ppgK"><path class="g or" d="M207,190h24l5,7-5,7h-24z"/><text class="t k" x="220" y="200.5">ppgK</text></g>
<g id="r4-04-malQ1"><path class="g db" d="M247,190h24l5,7-5,7h-24z"/><text class="t w" x="260" y="200.5">malQ1</text></g>
<g id="r4-05-pgm"><path class="g lb" d="M285,197l5,-7h23v14h-23z"/><text class="t k" x="300.5" y="200.5">pgm</text></g>
<g id="r4-06-malR3"><path class="g rd" d="M370,197l5,-7h23v14h-23z"/><text class="t w" x="385.5" y="200.5">malR3</text></g>
</g>

<g id="row5-breve">
<g id="r5-01-glgP"><path class="g pk" d="M126,221.5h23l5,7-5,7h-23z"/><text class="t k" x="138.5" y="232">glgP</text></g>
<g id="r5-02-pgi"><path class="g yl" d="M167,221.5h23l5,7-5,7h-23z"/><text class="t k" x="179.5" y="232">pgi</text></g>
<g id="r5-03-ppgK"><path class="g or" d="M207,221.5h24l5,7-5,7h-24z"/><text class="t k" x="220" y="232">ppgK</text></g>
<g id="r5-04-malQ1"><path class="g db" d="M247,221.5h24l5,7-5,7h-24z"/><text class="t w" x="260" y="232">malQ1</text></g>
<g id="r5-05-pgm"><path class="g lb" d="M285,228.5l5,-7h23v14h-23z"/><text class="t k" x="300.5" y="232">pgm</text></g>
<g id="r5-06-aapA"><path class="g db" d="M328,228.5l5,-7h24v14h-24z"/><text class="t w" x="344" y="232">aapA</text></g>
<g id="r5-07-malR3"><path class="g rd" d="M368,221.5h24l5,7-5,7h-24z"/><text class="t w" x="381" y="232">malR3</text></g>
<g id="r5-08-malE"><path class="g gr" d="M417,221.5h23l5,7-5,7h-23z"/><text class="t w" x="429.5" y="232">malE</text></g>
<g id="r5-09-malR1"><path class="g rd" d="M447,228.5l5,-7h24v14h-24z"/><text class="t w" x="463" y="232">malR1</text></g>
<g id="r5-10-malF"><path class="g gr" d="M484,221.5h23l5,7-5,7h-23z"/><text class="t w" x="496.5" y="232">malF</text></g>
<g id="r5-11-malG"><path class="g gr" d="M513,221.5h23l5,7-5,7h-23z"/><text class="t w" x="525.5" y="232">malG</text></g>
<g id="r5-12-aglA"><path class="g db" d="M548,228.5l5,-7h20v14h-20z"/><text class="t w" x="562" y="232">aglA</text></g>
<g id="r5-13-malR2"><path class="g rd" d="M574,228.5l5,-7h23v14h-23z"/><text class="t w" x="589.5" y="232">malR2</text></g>
<g id="r5-14-malQ"><path class="g db" d="M613,228.5l5,-7h23v14h-23z"/><text class="t w" x="628.5" y="232">malQ</text></g>
<g id="r5-15-agl3"><path class="g db" d="M647,228.5l5,-7h21v14h-21z"/><text class="t w" x="661.5" y="232">agl3</text></g>
<g id="r5-16-malE1"><path class="g gr" d="M679,221.5h23l5,7-5,7h-23z"/><text class="t w" x="691.5" y="232">malE1</text></g>
<g id="r5-17-malF1"><path class="g gr" d="M708,221.5h23l5,7-5,7h-23z"/><text class="t w" x="720.5" y="232">malF1</text></g>
<g id="r5-18-malG1"><path class="g gr" d="M737,221.5h23l5,7-5,7h-23z"/><text class="t w" x="749.5" y="232">malG1</text></g>
</g>

<g id="row6-breve-UCC2003">
<g id="r6-01-glgP"><path class="g pk" d="M123,253h24l5,7-5,7h-24z"/><text class="t k" x="136" y="263.5">glgP</text></g>
<g id="r6-02-pgi"><path class="g yl" d="M167,253h23l5,7-5,7h-23z"/><text class="t k" x="179.5" y="263.5">pgi</text></g>
<g id="r6-03-ppgK"><path class="g or" d="M207,253h24l5,7-5,7h-24z"/><text class="t k" x="220" y="263.5">ppgK</text></g>
<g id="r6-04-malQ1"><path class="g db" d="M247,253h24l5,7-5,7h-24z"/><text class="t w" x="260" y="263.5">malQ1</text></g>
<g id="r6-05-pgm"><path class="g lb" d="M285,260l5,-7h23v14h-23z"/><text class="t k" x="300.5" y="263.5">pgm</text></g>
<g id="r6-06-aapA"><path class="g db" d="M328,260l5,-7h24v14h-24z"/><text class="t w" x="344" y="263.5">aapA</text></g>
<g id="r6-07-malR3"><path class="g rd" d="M368,253h24l5,7-5,7h-24z"/><text class="t w" x="381" y="263.5">malR3</text></g>
<g id="r6-08-malE"><path class="g gr" d="M417,253h23l5,7-5,7h-23z"/><text class="t w" x="429.5" y="263.5">malE</text></g>
<g id="r6-09-malR1"><path class="g rd" d="M447,260l5,-7h24v14h-24z"/><text class="t w" x="463" y="263.5">malR1</text></g>
<g id="r6-10-malF"><path class="g gr" d="M484,253h23l5,7-5,7h-23z"/><text class="t w" x="496.5" y="263.5">malF</text></g>
<g id="r6-11-malG"><path class="g gr" d="M513,253h24l5,7-5,7h-24z"/><text class="t w" x="526" y="263.5">malG</text></g>
<g id="r6-12-aglA"><path class="g db" d="M549,260l5,-7h19v14h-19z"/><text class="t w" x="562.5" y="263.5">aglA</text></g>
<g id="r6-13-malR2"><path class="g rd" d="M575,260l5,-7h22v14h-22z"/><text class="t w" x="590" y="263.5">malR2</text></g>
<g id="r6-14-malQ"><path class="g db" d="M614,260l5,-7h24v14h-24z"/><text class="t w" x="630" y="263.5">malQ</text></g>
<g id="r6-15-agl3"><path class="g db" d="M650,260l5,-7h19v14h-19z"/><text class="t w" x="663.5" y="263.5">agl3</text></g>
<g id="r6-16-malE1"><path class="g gr" d="M686,253h23l5,7-5,7h-23z"/><text class="t w" x="698.5" y="263.5">malE1</text></g>
<g id="r6-17-malF1"><path class="g gr" d="M715,253h23l5,7-5,7h-23z"/><text class="t w" x="727.5" y="263.5">malF1</text></g>
<g id="r6-18-malG1"><path class="g gr" d="M744,253h23l5,7-5,7h-23z"/><text class="t w" x="756.5" y="263.5">malG1</text></g>
<g id="r6-19-malR5"><path class="g br" d="M783,260l5,-7h24v14h-24z"/><text class="t w" x="799" y="263.5">malR5</text></g>
<g id="r6-20-malE2"><path class="g gr" d="M819,253h23l5,7-5,7h-23z"/><text class="t w" x="831.5" y="263.5">malE2</text></g>
</g>

<g id="row7-dentium">
<g id="r7-01-glgP"><path class="g pk" d="M123,284.5h24l5,7-5,7h-24z"/><text class="t k" x="136" y="295">glgP</text></g>
<g id="r7-02-pgi"><path class="g yl" d="M167,284.5h23l5,7-5,7h-23z"/><text class="t k" x="179.5" y="295">pgi</text></g>
<g id="r7-03-ppgK"><path class="g or" d="M207,284.5h24l5,7-5,7h-24z"/><text class="t k" x="220" y="295">ppgK</text></g>
<g id="r7-04-malQ1"><path class="g db" d="M247,284.5h24l5,7-5,7h-24z"/><text class="t w" x="260" y="295">malQ1</text></g>
<g id="r7-05-pgm"><path class="g lb" d="M285,291.5l5,-7h23v14h-23z"/><text class="t k" x="300.5" y="295">pgm</text></g>
<g id="r7-06-aapA"><path class="g db" d="M330,291.5l5,-7h23v14h-23z"/><text class="t w" x="345.5" y="295">aapA</text></g>
<g id="r7-07-malR3"><path class="g rd" d="M370,291.5l5,-7h23v14h-23z"/><text class="t w" x="385.5" y="295">malR3</text></g>
<g id="r7-08-malE"><path class="g gr" d="M420,284.5h21l5,7-5,7h-21z"/><text class="t w" x="431.5" y="295">malE</text></g>
<g id="r7-09-malR1"><path class="g rd" d="M449,291.5l5,-7h23v14h-23z"/><text class="t w" x="464.5" y="295">malR1</text></g>
<g id="r7-10-malF"><path class="g gr" d="M485,284.5h23l5,7-5,7h-23z"/><text class="t w" x="497.5" y="295">malF</text></g>
<g id="r7-11-malG"><path class="g gr" d="M514,284.5h24l5,7-5,7h-24z"/><text class="t w" x="527" y="295">malG</text></g>
<g id="r7-12-grey"><path class="g gy" d="M546,291.5l5,-7h21v14h-21z"/></g>
<g id="r7-13-aglA"><path class="g db" d="M578,291.5l5,-7h20v14h-20z"/><text class="t w" x="592" y="295">aglA</text></g>
<g id="r7-14-malQ"><path class="g db" d="M604,291.5l5,-7h23v14h-23z"/><text class="t w" x="619.5" y="295">malQ</text></g>
<g id="r7-15-agl3"><path class="g db" d="M643,291.5l5,-7h20v14h-20z"/><text class="t w" x="657" y="295">agl3</text></g>
<g id="r7-16-malE1"><path class="g gr" d="M677,284.5h22l5,7-5,7h-22z"/><text class="t w" x="689" y="295">malE1</text></g>
<g id="r7-17-malF1"><path class="g gr" d="M705,284.5h23l5,7-5,7h-23z"/><text class="t w" x="717.5" y="295">malF1</text></g>
<g id="r7-18-malG1"><path class="g gr" d="M734,284.5h24l5,7-5,7h-24z"/><text class="t w" x="747" y="295">malG1</text></g>
<g id="r7-19-pulA"><path class="g db" d="M765,284.5h23l5,7-5,7h-23z"/><text class="t w" x="777.5" y="295">pulA</text></g>
<g id="r7-20-malR5"><path class="g br" d="M805,291.5l5,-7h23v14h-23z"/><text class="t w" x="820.5" y="295">malR5</text></g>
<g id="r7-21-malL"><path class="g db" d="M841,284.5h22l5,7-5,7h-22z"/><text class="t w" x="853" y="295">malL</text></g>
<g id="r7-22-malT"><path class="g gr" d="M870,284.5h23l5,7-5,7h-23z"/><text class="t w" x="882.5" y="295">malT</text></g>
</g>

<g id="row8-gallicum">
<g id="r8-01-glgP"><path class="g pk" d="M123,316h24l5,7-5,7h-24z"/><text class="t k" x="136" y="326.5">glgP</text></g>
<g id="r8-02-pgi"><path class="g yl" d="M167,316h23l5,7-5,7h-23z"/><text class="t k" x="179.5" y="326.5">pgi</text></g>
<g id="r8-03-ppgK"><path class="g or" d="M207,316h24l5,7-5,7h-24z"/><text class="t k" x="220" y="326.5">ppgK</text></g>
<g id="r8-04-malQ1"><path class="g db" d="M247,316h24l5,7-5,7h-24z"/><text class="t w" x="260" y="326.5">malQ1</text></g>
<g id="r8-05-pgm"><path class="g lb" d="M285,323l5,-7h23v14h-23z"/><text class="t k" x="300.5" y="326.5">pgm</text></g>
<g id="r8-06-aapA"><path class="g db" d="M330,323l5,-7h23v14h-23z"/><text class="t w" x="345.5" y="326.5">aapA</text></g>
<g id="r8-07-malR3"><path class="g rd" d="M370,323l5,-7h23v14h-23z"/><text class="t w" x="385.5" y="326.5">malR3</text></g>
<g id="r8-08-malE"><path class="g gr" d="M417,316h24l5,7-5,7h-24z"/><text class="t w" x="430" y="326.5">malE</text></g>
<g id="r8-09-malR1"><path class="g rd" d="M448,323l5,-7h24v14h-24z"/><text class="t w" x="464" y="326.5">malR1</text></g>
<g id="r8-10-malF"><path class="g gr" d="M485,316h23l5,7-5,7h-23z"/><text class="t w" x="497.5" y="326.5">malF</text></g>
<g id="r8-11-malG"><path class="g gr" d="M514,316h24l5,7-5,7h-24z"/><text class="t w" x="527" y="326.5">malG</text></g>
<g id="r8-12-grey"><path class="g gy" d="M545,316h21l5,7-5,7h-21z"/></g>
<g id="r8-13-malQ"><path class="g db" d="M575,323l5,-7h23v14h-23z"/><text class="t w" x="590.5" y="326.5">malQ</text></g>
<g id="r8-14-grey"><path class="g gy" d="M612,316h22l5,7-5,7h-22z"/></g>
<g id="r8-15-agl3"><path class="g db" d="M645,323l5,-7h20v14h-20z"/><text class="t w" x="659" y="326.5">agl3</text></g>
<g id="r8-16-malE1"><path class="g gr" d="M678,316h22l5,7-5,7h-22z"/><text class="t w" x="690" y="326.5">malE1</text></g>
<g id="r8-17-malF1"><path class="g gr" d="M706,316h22l5,7-5,7h-22z"/><text class="t w" x="718" y="326.5">malF1</text></g>
<g id="r8-18-malG1"><path class="g gr" d="M735,316h23l5,7-5,7h-23z"/><text class="t w" x="747.5" y="326.5">malG1</text></g>
<g id="r8-19-pulA"><path class="g db" d="M766,316h24l5,7-5,7h-24z"/><text class="t w" x="779" y="326.5">pulA</text></g>
<g id="r8-20-aglA"><path class="g db" d="M806,323l5,-7h19v14h-19z"/><text class="t w" x="819.5" y="326.5">aglA</text></g>
</g>

<g id="row9-longum-NCC2705">
<g id="r9-01-glgP"><path class="g pk" d="M123,347.5h24l5,7-5,7h-24z"/><text class="t k" x="136" y="358">glgP</text></g>
<g id="r9-02-pgi"><path class="g yl" d="M167,347.5h23l5,7-5,7h-23z"/><text class="t k" x="179.5" y="358">pgi</text></g>
<g id="r9-03-ppgK"><path class="g or" d="M207,347.5h24l5,7-5,7h-24z"/><text class="t k" x="220" y="358">ppgK</text></g>
<g id="r9-04-malQ1"><path class="g db" d="M247,347.5h24l5,7-5,7h-24z"/><text class="t w" x="260" y="358">malQ1</text></g>
<g id="r9-05-pgm"><path class="g lb" d="M285,354.5l5,-7h23v14h-23z"/><text class="t k" x="300.5" y="358">pgm</text></g>
<g id="r9-06-glcP"><path class="g lb" d="M313,354.5l5,-7h21v14h-21z"/><text class="t k" x="327.5" y="358">glcP</text></g>
<g id="r9-07-malE"><path class="g gr" d="M417,347.5h24l5,7-5,7h-24z"/><text class="t w" x="430" y="358">malE</text></g>
<g id="r9-08-malR1"><path class="g rd" d="M448,354.5l5,-7h24v14h-24z"/><text class="t w" x="464" y="358">malR1</text></g>
<g id="r9-09-malF"><path class="g gr" d="M485,347.5h23l5,7-5,7h-23z"/><text class="t w" x="497.5" y="358">malF</text></g>
<g id="r9-10-malG"><path class="g gr" d="M514,347.5h24l5,7-5,7h-24z"/><text class="t w" x="527" y="358">malG</text></g>
<g id="r9-11-aglA"><path class="g db" d="M550,354.5l5,-7h18v14h-18z"/><text class="t w" x="563" y="358">aglA</text></g>
<g id="r9-12-malR2"><path class="g rd" d="M575,354.5l5,-7h23v14h-23z"/><text class="t w" x="590.5" y="358">malR2</text></g>
<g id="r9-13-malQ"><path class="g db" d="M604,354.5l5,-7h24v14h-24z"/><text class="t w" x="620" y="358">malQ</text></g>
<g id="r9-14-malR4"><path class="g bk" d="M802,354.5l5,-7h21v14h-21z"/><text class="t w" x="816.5" y="358">malR4</text></g>
<g id="r9-15-malG3"><path class="g gr" d="M846,347.5h22l5,7-5,7h-22z"/><text class="t w" x="858" y="358">malG3</text></g>
<g id="r9-16-aglL"><path class="g db" d="M885,347.5h24l5,7-5,7h-24z"/><text class="t w" x="898" y="358">aglL</text></g>
</g>

<g id="row10-longum-ATCC15697">
<g id="r10-01-glgP"><path class="g pk" d="M123,379h24l5,7-5,7h-24z"/><text class="t k" x="136" y="389.5">glgP</text></g>
<g id="r10-02-pgi"><path class="g yl" d="M167,379h23l5,7-5,7h-23z"/><text class="t k" x="179.5" y="389.5">pgi</text></g>
<g id="r10-03-ppgK"><path class="g or" d="M207,379h24l5,7-5,7h-24z"/><text class="t k" x="220" y="389.5">ppgK</text></g>
<g id="r10-04-malQ1"><path class="g db" d="M247,379h24l5,7-5,7h-24z"/><text class="t w" x="260" y="389.5">malQ1</text></g>
<g id="r10-05-pgm"><path class="g lb" d="M285,386l5,-7h23v14h-23z"/><text class="t k" x="300.5" y="389.5">pgm</text></g>
<g id="r10-06-malE"><path class="g gr" d="M418,379h24l5,7-5,7h-24z"/><text class="t w" x="431" y="389.5">malE</text></g>
<g id="r10-07-malR1"><path class="g rd" d="M449,386l5,-7h23v14h-23z"/><text class="t w" x="464.5" y="389.5">malR1</text></g>
<g id="r10-08-malF"><path class="g gr" d="M487,379h22l5,7-5,7h-22z"/><text class="t w" x="499" y="389.5">malF</text></g>
<g id="r10-09-malG"><path class="g gr" d="M515,379h23l5,7-5,7h-23z"/><text class="t w" x="527.5" y="389.5">malG</text></g>
<g id="r10-10-aglA"><path class="g db" d="M553,386l5,-7h20v14h-20z"/><text class="t w" x="567" y="389.5">aglA</text></g>
<g id="r10-11-malR2"><path class="g rd" d="M590,386l5,-7h22v14h-22z"/><text class="t w" x="605" y="389.5">malR2</text></g>
<g id="r10-12-malQ"><path class="g db" d="M618,386l5,-7h23v14h-23z"/><text class="t w" x="633.5" y="389.5">malQ</text></g>
</g>
</svg>
